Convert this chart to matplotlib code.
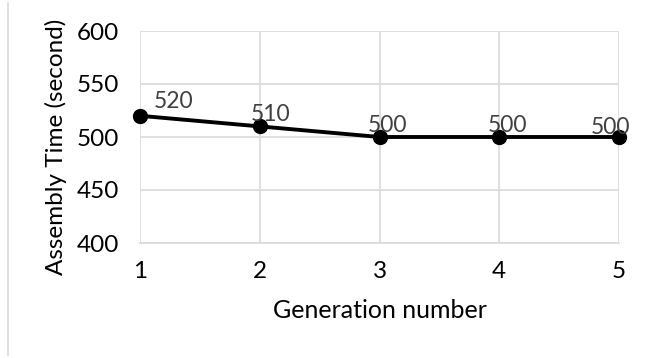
import matplotlib
matplotlib.use("Agg")
import matplotlib.pyplot as plt
from matplotlib.lines import Line2D

plt.rcParams['font.family'] = ['Lato', 'DejaVu Sans']

# data
generations = [1, 2, 3, 4, 5]
assembly_time = [520, 510, 500, 500, 500]
label_offsets = [(24, 3), (8, 1), (6, 1), (6, 1), (-6, -1)]

fig = plt.figure(figsize=(6.48, 3.58), dpi=100)
ax = fig.add_axes([140 / 648, 1 - 243 / 358, (619 - 140) / 648, (243 - 31) / 358])

grid_col = "#d9d9d9"
ax.plot(generations, assembly_time, color="black", linewidth=2.8,
        marker="o", markersize=10, zorder=3, clip_on=False)

for x, y, (dx, dy) in zip(generations, assembly_time, label_offsets):
    ax.annotate(str(y), (x, y), xytext=(dx, dy), textcoords="offset points",
                ha="center", va="bottom", fontsize=16.5, color="#404040", zorder=4)

ax.set_xlim(1, 5)
ax.set_ylim(400, 600)
ax.set_xticks(generations)
ax.set_yticks([400, 450, 500, 550, 600])
ax.grid(True, color=grid_col, linewidth=1.2)
ax.set_axisbelow(True)
for s in ["top", "right", "left"]:
    ax.spines[s].set_visible(False)
ax.spines["bottom"].set_color(grid_col)
ax.spines["bottom"].set_linewidth(1.2)
ax.tick_params(length=0, labelsize=17.5, colors="black")
ax.tick_params(axis="x", pad=13)
ax.tick_params(axis="y", pad=15)

ax.set_xlabel("Generation number", fontsize=18)
ax.set_ylabel("Assembly Time (second)", fontsize=17.5)
ax.xaxis.set_label_coords(0.5, -(311 - 243) / 212, transform=ax.transAxes)
ax.yaxis.set_label_coords(-(140 - 56) / 479, (243 - 147) / 212, transform=ax.transAxes)
ax.xaxis.label.set_va("center")
ax.yaxis.label.set_va("center")

# chart border at the left edge
fig.add_artist(Line2D([8 / 648, 8 / 648], [3 / 358, 355 / 358], color=grid_col, linewidth=1.2))

fig.savefig("out.png", dpi=100)
